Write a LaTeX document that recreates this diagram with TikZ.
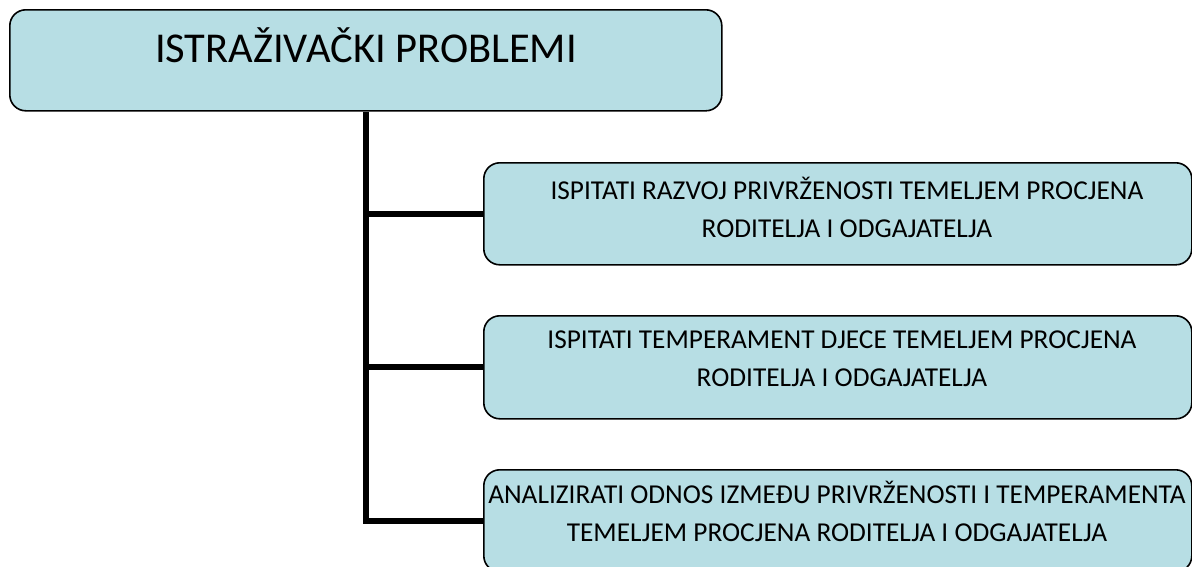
\documentclass[tikz,border=0pt]{standalone}
\usepackage{fontspec}
\setmainfont{Carlito}
\definecolor{boxfill}{RGB}{183,222,228}
\begin{document}
\begin{tikzpicture}[x=1pt,y=-1pt,
  box/.style={draw=black, line width=1.6pt, fill=boxfill, rounded corners=16pt, inner sep=0pt, anchor=north west},
  label/.style={align=center, inner sep=0pt, font=\fontsize{27.3}{38}\selectfont}]
\useasboundingbox (0,0) rectangle (1192,566);
\clip (0,0) rectangle (1192,566);
\node[box, minimum width=712pt, minimum height=101pt] (top) at (9,9) {};
\node[box, minimum width=708pt, minimum height=102pt] (b1) at (483,162) {};
\node[box, minimum width=708pt, minimum height=103pt] (b2) at (483,315) {};
\node[box, minimum width=708pt, minimum height=102pt] (b3) at (483,469) {};
\node[inner sep=0pt, font=\fontsize{42.5}{43}\selectfont] (tt) at (366,45) {ISTRAŽIVAČKI PROBLEMI};
\node[label] (t1) at (847,207) {ISPITATI RAZVOJ PRIVRŽENOSTI TEMELJEM PROCJENA\\RODITELJA I ODGAJATELJA};
\node[label] (t2) at (842,359) {ISPITATI TEMPERAMENT DJECE TEMELJEM PROCJENA\\RODITELJA I ODGAJATELJA};
\node[label] (t3) at (837,511) {ANALIZIRATI ODNOS IZMEĐU PRIVRŽENOSTI I TEMPERAMENTA\\TEMELJEM PROCJENA RODITELJA I ODGAJATELJA};
\draw[line width=6pt] (top.south) |- (b3.west);
\draw[line width=6pt] (top.south |- b1.west) -- (b1.west);
\draw[line width=6pt] (top.south |- b2.west) -- (b2.west);
\end{tikzpicture}
\end{document}
